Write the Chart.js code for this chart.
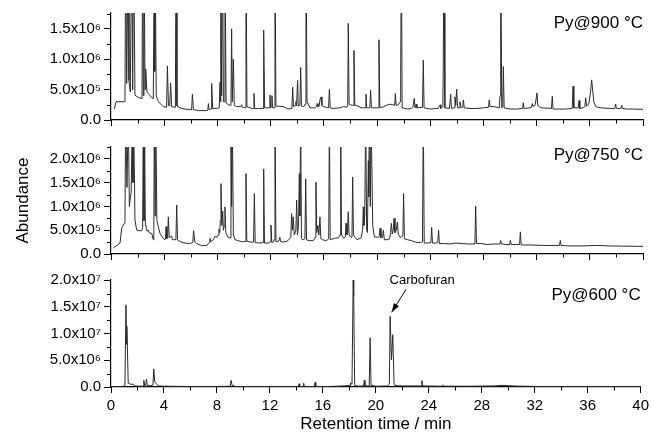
<!DOCTYPE html>
<html>
<head>
<meta charset="utf-8">
<script src="https://cdn.jsdelivr.net/npm/chart.js@4.4.0/dist/chart.umd.min.js"></script>
<style>
  body { margin: 0; background: #fff; }
  #wrap { position: relative; width: 653px; height: 442px; }
  canvas { position: absolute; left: 0; }
</style>
</head>
<body>
<div id="wrap">
  <canvas id="c900" width="653" height="132" style="top:0"></canvas>
  <canvas id="c750" width="653" height="132" style="top:134px"></canvas>
  <canvas id="c600" width="653" height="175" style="top:267px"></canvas>
</div>
<script>
// retention time (min), abundance in units of 1e5 counts
var trace900 = [
  [0.25,1.8],[0.38,3.0],[1.05,3.0],[1.10,30],[1.18,6],[1.30,30],[1.35,6.5],[1.45,4.6],[1.56,30],[1.63,5],[1.70,30],
  [1.80,4.1],[2.05,3.7],[2.33,3.5],[2.38,30],[2.43,4],[2.48,30],[2.56,5],[2.61,8.4],[2.70,4.6],[2.81,4.35],[3.06,3.7],
  [3.18,3.5],[3.26,30],[3.29,8],[3.31,30],[3.40,4],[3.56,3.0],[3.94,2.2],[4.18,2.1],[4.24,8.9],[4.32,2.4],[4.42,2.3],
  [4.48,6.1],[4.56,2.2],[4.84,2.1],[4.89,30],[4.96,2.3],[5.19,2.0],[5.56,1.8],[6.06,1.7],[6.12,4.25],[6.2,1.7],[6.57,1.55],
  [7.19,1.55],[7.28,1.6],[7.32,2.7],[7.38,1.7],[7.52,1.8],[7.57,6.0],[7.64,1.9],[7.94,1.9],[8.14,2.0],[8.20,6.2],[8.23,3],
  [8.27,30],[8.32,4],[8.39,30],[8.45,3],[8.52,3],[8.57,30],[8.65,2.8],[8.82,2.5],[9.02,2.4],[9.07,15.0],[9.12,3],[9.20,10.0],
  [9.27,2.4],[9.45,2.2],[9.76,2.2],[9.82,2.5],[9.88,2.1],[10.1,2.0],[10.15,30],[10.22,2.2],[10.58,1.9],[10.71,1.9],[10.75,4.35],
  [10.8,1.9],[11.1,1.9],[11.43,1.9],[11.48,14.8],[11.55,2.0],[11.9,2.0],[11.95,4.1],[12.0,2.0],[12.05,2.2],[12.1,4],[12.15,2.0],
  [12.28,2.0],[12.33,30],[12.40,2.3],[12.96,2.2],[13.3,1.8],[13.6,1.9],[13.66,5.4],[13.72,2.2],[13.85,2.4],[13.9,3.0],[13.95,2.3],
  [14.03,6.5],[14.08,2.3],[14.2,2.4],[14.26,8.65],[14.32,2.3],[14.5,2.2],[14.6,2.6],[14.66,30],[14.74,3.0],[14.96,2.0],[15.3,2.0],
  [15.45,2.2],[15.51,2.7],[15.56,2.2],[15.65,2.3],[15.72,3.4],[15.79,3.8],[15.86,2.4],[16.0,2.2],[16.36,2.0],[16.42,5.05],[16.48,2.0],
  [16.7,1.9],[17.2,2.0],[17.47,2.2],[17.7,2.1],[17.80,2.2],[17.84,15.9],[17.9,2.6],[18.0,2.5],[18.22,2.4],[18.27,11.45],[18.33,2.4],
  [18.48,2.4],[18.8,2.0],[19.12,2.0],[19.17,4.25],[19.22,2.0],[19.46,2.0],[19.52,4.9],[19.58,2.0],[19.7,2.0],[20.1,2.0],[20.15,13.2],
  [20.21,2.0],[20.5,2.2],[20.8,2.5],[21.0,2.6],[21.2,2.5],[21.33,2.4],[21.38,4.35],[21.44,2.4],[21.6,2.5],[21.75,3],[21.78,7],
  [21.83,30],[21.89,2.0],[22.3,1.8],[22.6,1.9],[22.7,2.1],[22.8,3.55],[22.86,2.0],[22.95,2.6],[23.0,2.0],[23.42,2.1],[23.48,9.85],
  [23.54,2.0],[24.0,1.8],[24.6,1.9],[24.75,2.5],[24.8,1.9],[24.95,2.3],[24.98,8.5],[25.04,30],[25.1,2.0],[25.45,1.9],[25.54,4.25],
  [25.6,1.9],[25.8,2.0],[25.86,3.8],[25.92,2.4],[25.99,5.1],[26.06,2.0],[26.18,2.0],[26.24,3.0],[26.3,2.1],[26.44,2.1],[26.5,3.3],
  [26.56,2.0],[27.0,1.9],[27.5,1.9],[28.0,2.0],[28.38,2.1],[28.44,3.3],[28.5,2.2],[28.8,2.2],[29.2,2.0],[29.25,4],[29.30,30],
  [29.38,2.0],[29.45,2.2],[29.5,8.8],[29.56,2.0],[30.0,1.8],[30.5,1.8],[30.95,1.9],[31.0,2.85],[31.06,1.9],[31.5,2.0],[31.62,2.1],
  [31.68,2.7],[31.74,2.2],[31.9,2.5],[32.03,4.45],[32.09,2.4],[32.2,2.2],[32.4,2.0],[33.12,1.9],[33.18,3.9],[33.24,1.8],[33.6,1.8],
  [34.2,1.8],[34.68,1.9],[34.74,5.55],[34.8,2.0],[35.13,2.0],[35.19,3.2],[35.25,1.9],[35.5,2.0],[35.63,2.2],[35.69,3.65],[35.76,2.3],
  [35.92,2.6],[36.05,4.5],[36.14,6.6],[36.3,3.0],[36.45,2.2],[36.8,2.0],[37.5,1.9],[37.88,1.9],[37.94,2.6],[38.0,1.9],[38.34,1.9],
  [38.4,2.4],[38.46,1.9],[38.8,1.8],[39.3,1.8],[40,1.75]
];

// retention time (min), abundance in units of 1e5 counts
var trace750 = [
  [0.17,1.25],[0.68,2.3],[0.80,5.4],[1.0,6.45],[1.05,6.6],[1.10,30],[1.20,14],[1.30,30],[1.38,10],[1.43,11.3],[1.52,13],[1.60,30],
  [1.65,15],[1.70,30],[1.80,7.15],[1.93,5.05],[2.1,4.9],[2.3,4.9],[2.38,5.5],[2.43,30],[2.48,7],[2.52,30],[2.58,6],[2.61,6.1],
  [2.7,4.8],[2.81,5.0],[2.9,4.4],[3.06,4.35],[3.18,3.0],[3.22,5],[3.26,30],[3.31,8],[3.36,30],[3.45,7],[3.68,4.35],[3.9,3.4],
  [4.06,3.0],[4.1,3.2],[4.14,5.75],[4.2,3.2],[4.26,3.5],[4.31,7.8],[4.38,3.4],[4.56,3.8],[4.62,3.0],[4.88,3.0],[4.94,10.3],[5.0,3.0],
  [5.19,2.6],[5.56,2.3],[5.9,2.2],[6.15,2.4],[6.21,4.9],[6.3,2.5],[6.44,2.2],[6.82,1.75],[7.2,1.8],[7.38,2.4],[7.44,3.3],[7.5,2.6],
  [7.7,3.0],[7.82,3.7],[7.95,3.5],[8.05,4.0],[8.12,5.2],[8.18,4.5],[8.22,7],[8.27,14.8],[8.33,6],[8.40,9],[8.45,5],[8.52,6],
  [8.57,9.9],[8.63,4.5],[8.8,3.5],[8.95,3.4],[9.02,30],[9.07,10],[9.12,30],[9.2,4],[9.32,3.0],[9.6,2.8],[9.8,2.6],[10.1,2.6],
  [10.15,16.9],[10.21,2.7],[10.5,2.5],[10.72,2.5],[10.78,12.7],[10.84,2.4],[11.2,2.3],[11.43,2.4],[11.48,17.9],[11.54,2.3],[11.9,2.3],
  [11.97,2.6],[12.03,6.1],[12.09,2.4],[12.2,2.5],[12.28,3.0],[12.33,30],[12.40,2.6],[12.6,2.7],[12.7,3.5],[12.75,2.6],[13.0,2.5],
  [13.3,2.8],[13.52,3.5],[13.58,8.5],[13.64,5],[13.7,7.8],[13.78,4],[13.9,5],[13.96,11.3],[14.02,4],[14.1,6],[14.16,16.9],[14.20,8],
  [14.26,30],[14.32,3.2],[14.45,3.0],[14.58,3.2],[14.64,15.8],[14.70,3.0],[14.9,2.8],[15.2,2.8],[15.35,3.5],[15.41,15.1],[15.47,4.5],
  [15.55,6],[15.63,4],[15.71,7.8],[15.78,3.2],[15.9,3.0],[16.2,2.8],[16.37,3.2],[16.42,30],[16.48,3.0],[16.8,3.3],[17.1,3.4],
  [17.22,4],[17.27,30],[17.33,4.0],[17.5,3.3],[17.62,3.6],[17.67,6.45],[17.73,4],[17.78,4.5],[17.84,8.9],[17.9,4],[18.05,3.5],
  [18.12,4],[18.17,16.2],[18.23,4],[18.35,3.5],[18.5,3.0],[18.8,3.4],[18.92,5],[18.97,9.9],[19.02,6],[19.08,8],[19.15,30],[19.22,5],
  [19.28,4.5],[19.35,19.6],[19.38,12],[19.42,30],[19.5,10],[19.55,30],[19.60,30],[19.68,6],[19.8,3.6],[20.1,3.5],[20.18,3.8],
  [20.23,5.4],[20.3,3.4],[20.42,3.5],[20.48,5.0],[20.55,3.0],[20.75,3.0],[20.95,3.2],[21.02,4.5],[21.08,6.45],[21.15,4.2],[21.22,5],
  [21.28,7.5],[21.35,4.5],[21.45,5],[21.53,6.7],[21.6,4.2],[21.75,3.5],[21.85,3.6],[21.95,4],[22.0,12.7],[22.06,3.2],[22.3,3.0],
  [22.6,2.8],[23.0,2.4],[23.3,2.4],[23.42,2.6],[23.48,30],[23.55,2.3],[23.8,2.3],[24.05,2.4],[24.11,5.6],[24.17,2.3],[24.4,2.3],
  [24.57,2.4],[24.63,5.05],[24.69,2.2],[25.0,2.2],[25.5,2.1],[25.9,2.3],[26.4,2.2],[26.9,2.1],[27.36,2.1],[27.42,10.1],[27.48,2.2],
  [27.8,2.2],[28.3,2.0],[28.8,2.1],[29.24,2.1],[29.3,2.85],[29.36,2.1],[29.7,2.0],[29.97,2.0],[30.03,2.85],[30.09,2.0],[30.5,2.0],
  [30.72,2.0],[30.78,4.65],[30.84,1.9],[31.5,1.9],[32.5,1.8],[33.3,1.8],[33.72,1.8],[33.78,2.85],[33.84,1.8],[34.5,1.7],[35.5,1.7],
  [36.5,1.8],[37.5,1.7],[38.5,1.65],[40,1.6]
];

// retention time (min), abundance in units of 1e6 counts
var trace600 = [
  [0.0,0.05],[0.9,0.1],[1.05,0.3],[1.13,15.4],[1.17,8],[1.2,11.4],[1.30,0.75],[1.5,0.5],[1.68,0.55],[1.8,0.2],[2.3,0.15],[2.44,0.2],
  [2.48,1.25],[2.54,0.3],[2.62,0.3],[2.68,1.5],[2.74,0.3],[3.0,0.2],[3.17,0.4],[3.23,3.4],[3.3,1.0],[3.43,0.6],[3.6,0.2],[4.0,0.15],
  [6.0,0.1],[8.0,0.1],[9.0,0.15],[9.07,1.25],[9.15,0.3],[9.4,0.1],[12.0,0.1],[14.15,0.1],[14.2,0.6],[14.25,0.1],[14.5,0.1],[14.55,0.7],
  [14.6,0.1],[15.36,0.1],[15.41,0.85],[15.47,0.1],[16.5,0.1],[17.6,0.2],[18.05,0.3],[18.09,0.75],[18.2,0.5],[18.29,20.1],[18.33,17],
  [18.4,0.3],[18.7,0.15],[19.08,0.2],[19.13,1.25],[19.18,0.2],[19.5,0.2],[19.57,9.2],[19.64,0.3],[20.0,0.15],[20.9,0.2],[21.02,0.6],
  [21.08,13.25],[21.18,5.1],[21.28,9.8],[21.38,0.4],[21.6,0.25],[22.0,0.2],[22.5,0.2],[23.43,0.2],[23.48,1.2],[23.54,0.2],[25.0,0.15],
  [25.1,0.35],[25.2,0.15],[27.0,0.15],[29.0,0.2],[29.4,0.3],[31.0,0.15],[32.5,0.1],[36,0.1],[40,0.1]
];

var xTickLabels = ['0', '4', '8', '12', '16', '20', '24', '28', '32', '36', '40'];
var yLabels900 = ['0.0', '5.0x10\u2075', '1.0x10\u2076', '1.5x10\u2076'];
var yLabels750 = ['0.0', '5.0x10\u2075', '1.0x10\u2076', '1.5x10\u2076', '2.0x10\u2076'];
var yLabels600 = ['0.0', '5.0x10\u2076', '1.0x10\u2077', '1.5x10\u2077', '2.0x10\u2077'];

var FONT = '"Liberation Sans", Arial, sans-serif';

// minor ticks, panel label and peak note
var decor = {
    id: 'decor',
    afterDraw: function (chart, args, o) {
        var ctx = chart.ctx;
        var xs = chart.scales.x, ys = chart.scales.y;
        ctx.save();
        ctx.strokeStyle = '#000';
        ctx.lineWidth = 1;
        ctx.beginPath();
        var xt = xs.ticks;
        for (var i = 0; i < xt.length - 1; i++) {
            var px = Math.round(xs.getPixelForValue((xt[i].value + xt[i + 1].value) / 2)) + 0.5;
            ctx.moveTo(px, ys.bottom);
            ctx.lineTo(px, ys.bottom + 3.5);
        }
        var yt = ys.ticks;
        var step = yt[1].value - yt[0].value;
        for (var j = 0; j < yt.length; j++) {
            var v = yt[j].value + step / 2;
            if (v > ys.max) break;
            var py = Math.round(ys.getPixelForValue(v)) + 0.5;
            ctx.moveTo(xs.left, py);
            ctx.lineTo(xs.left - 4, py);
        }
        ctx.stroke();

        ctx.fillStyle = '#000';
        ctx.font = '17px ' + FONT;
        ctx.textAlign = 'right';
        ctx.textBaseline = 'middle';
        ctx.fillText(o.label, chart.chartArea.right, chart.chartArea.top + o.labelDy);

        if (o.note) {
            var pt = o.note.point;
            var ax = xs.getPixelForValue(pt[0]), ay = ys.getPixelForValue(pt[1]);
            var tipX = ax + 1.5, tipY = ay - 4;
            var tailX = ax + 16, tailY = ay - 27;
            ctx.beginPath();
            ctx.moveTo(tailX, tailY);
            ctx.lineTo(tipX, tipY);
            ctx.stroke();
            var ang = Math.atan2(tipY - tailY, tipX - tailX);
            ctx.beginPath();
            ctx.moveTo(tipX, tipY);
            ctx.lineTo(tipX - 9 * Math.cos(ang) + 3 * Math.sin(ang), tipY - 9 * Math.sin(ang) - 3 * Math.cos(ang));
            ctx.lineTo(tipX - 9 * Math.cos(ang) - 3 * Math.sin(ang), tipY - 9 * Math.sin(ang) + 3 * Math.cos(ang));
            ctx.closePath();
            ctx.fill();
            ctx.font = '13px ' + FONT;
            ctx.textAlign = 'center';
            ctx.fillText(o.note.text, ax + 32, ay - 36);
        }
        ctx.restore();
    }
};

function makePanel(id, trace, yMax, yLabels, cfg) {
    var ctx = document.getElementById(id).getContext('2d');
    return new Chart(ctx, {
        type: 'line',
        data: {
            datasets: [{
                data: trace.map(function (p) { return { x: p[0], y: p[1] }; }),
                borderColor: '#2b2b2b',
                borderWidth: 1,
                pointRadius: 0,
                tension: 0,
                fill: false
            }]
        },
        options: {
            responsive: false,
            animation: false,
            devicePixelRatio: 1,
            layout: { padding: { top: 13, right: 10, left: 0, bottom: 0 } },
            plugins: {
                legend: { display: false },
                tooltip: { enabled: false },
                decor: { label: cfg.label, labelDy: cfg.labelDy, note: cfg.note }
            },
            scales: {
                x: {
                    type: 'linear',
                    min: 0,
                    max: 40,
                    afterFit: function (s) { s.height = cfg.xHeight; },
                    border: { display: true, color: '#000', width: 1.2 },
                    grid: { drawOnChartArea: false, drawTicks: true, tickLength: 6, color: '#000' },
                    ticks: {
                        display: cfg.showX,
                        stepSize: 4,
                        padding: 4,
                        color: '#000',
                        font: { family: FONT, size: 15 },
                        maxRotation: 0,
                        callback: function (v) { return xTickLabels[v / 4]; }
                    },
                    title: {
                        display: cfg.showX,
                        text: 'Retention time / min',
                        color: '#000',
                        font: { family: FONT, size: 17 },
                        padding: { top: 0, bottom: 7 }
                    }
                },
                y: {
                    type: 'linear',
                    min: 0,
                    max: yMax,
                    afterFit: function (s) { s.width = 111; },
                    border: { display: true, color: '#000', width: 1.2 },
                    grid: { drawOnChartArea: false, drawTicks: true, tickLength: 7, color: '#000' },
                    ticks: {
                        stepSize: 5,
                        includeBounds: false,
                        padding: 3,
                        color: '#000',
                        font: { family: FONT, size: 15 },
                        callback: function (v) { return yLabels[v / 5]; }
                    },
                    title: {
                        display: !!cfg.yTitle,
                        text: cfg.yTitle || '',
                        color: '#000',
                        font: { family: FONT, size: 17 },
                        padding: { top: 13, bottom: 0 }
                    }
                }
            }
        },
        plugins: [decor]
    });
}

document.addEventListener('DOMContentLoaded', function () {
    makePanel('c900', trace900, 17.6, yLabels900, {
        label: 'Py@900 \u00B0C', labelDy: 10, xHeight: 10, showX: false
    });
    makePanel('c750', trace750, 22.5, yLabels750, {
        label: 'Py@750 \u00B0C', labelDy: 8, xHeight: 12, showX: false, yTitle: 'Abundance'
    });
    makePanel('c600', trace600, 20.05, yLabels600, {
        label: 'Py@600 \u00B0C', labelDy: 15, xHeight: 55, showX: true,
        note: { text: 'Carbofuran', point: [21.08, 13.25] }
    });
});
</script>
</body>
</html>
